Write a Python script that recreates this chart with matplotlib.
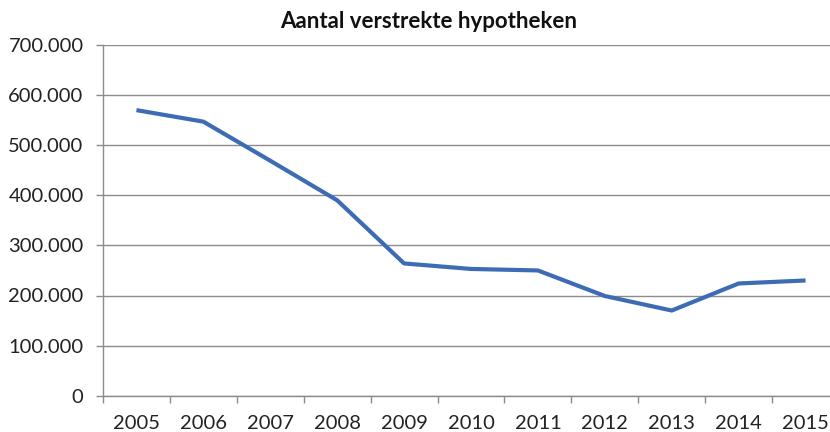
import matplotlib.pyplot as plt
from matplotlib.ticker import FuncFormatter, FixedLocator

years = ['2005', '2006', '2007', '2008', '2009', '2010',
         '2011', '2012', '2013', '2014', '2015']
hypotheken = [570000, 547000, 469000, 390000, 264000, 253000,
              250000, 199000, 170000, 224000, 230000]
y_ticks = [0, 100000, 200000, 300000, 400000, 500000, 600000, 700000]

plt.rcParams['font.family'] = ['Lato', 'DejaVu Sans']

fig = plt.figure(figsize=(8.3, 4.32), dpi=100)
# plot area runs a bit past the right edge, like the cropped original
ax = fig.add_axes([103 / 830, 36.3 / 432, 736 / 830, 350.7 / 432])

grid_col = '#8c8c8c'
x = list(range(len(years)))
ax.plot(x, hypotheken, color='#3d6cb5', lw=3.0, solid_capstyle='butt',
        solid_joinstyle='round', zorder=3)

ax.set_xlim(-0.5, len(years) - 0.5)
ax.set_ylim(0, 700000)
ax.set_yticks(y_ticks)
ax.yaxis.set_major_formatter(
    FuncFormatter(lambda v, p: '0' if v == 0 else f'{int(v):,}'.replace(',', '.')))
ax.grid(axis='y', color=grid_col, lw=1.0)
ax.set_axisbelow(True)

# category boundaries get tick marks, labels sit in the middle
ax.xaxis.set_major_locator(FixedLocator([i - 0.5 for i in range(len(years) + 1)]))
ax.xaxis.set_major_formatter(FuncFormatter(lambda v, p: ''))
ax.set_xticks(x, minor=True)
ax.set_xticklabels(years, minor=True)
ax.tick_params(axis='x', which='major', length=5, width=1, color=grid_col, direction='out')
ax.tick_params(axis='x', which='minor', length=0, pad=14, labelsize=14.5, labelcolor='#222222')
ax.tick_params(axis='y', length=5, width=1, color=grid_col, pad=9,
               labelsize=14.5, labelcolor='#222222')

for side in ['top', 'right']:
    ax.spines[side].set_visible(False)
for side in ['left', 'bottom']:
    ax.spines[side].set_color(grid_col)
    ax.spines[side].set_linewidth(1.0)

fig.text(429 / 830, 1 - 21 / 432, 'Aantal verstrekte hypotheken', ha='center', va='center',
         fontsize=16, fontweight='bold', color='#111111')

fig.savefig('out.png', dpi=100, facecolor='white')
